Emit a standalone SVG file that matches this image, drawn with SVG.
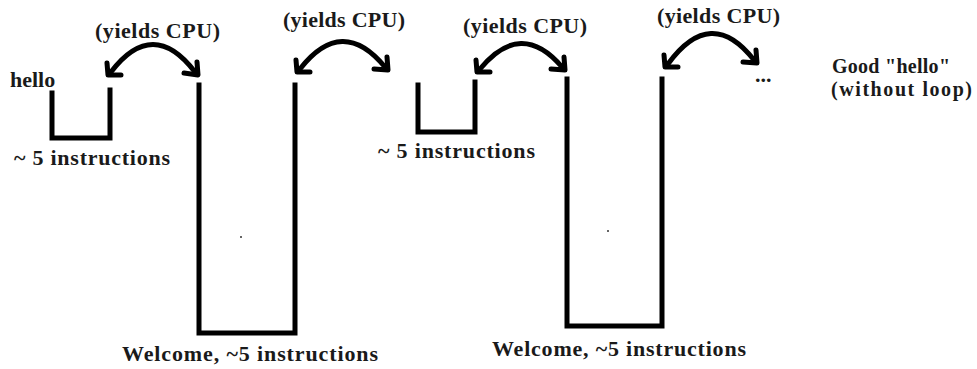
<svg xmlns="http://www.w3.org/2000/svg" width="977" height="369" viewBox="0 0 977 369">
<style>
.t{font-family:"Liberation Serif","Times New Roman",serif;font-weight:bold;font-size:22px;fill:#1a1a1a}
.s{font-size:20px}
.ln{fill:none;stroke:#000;stroke-width:5;stroke-linecap:square;stroke-linejoin:miter}
.arc{fill:none;stroke:#000;stroke-width:5;stroke-linecap:round;stroke-linejoin:round}
</style>
<rect width="977" height="369" fill="#fff"/>
<g id="hello">
<text class="t" x="10" y="87">hello</text>
<path class="ln" d="M52 93 V138 H110 V90"/>
<text class="t" x="14" y="165" textLength="156">~ 5 instructions</text>
</g>
<g id="welcome1">
<path class="ln" d="M199 85 V333 H295 V85"/>
<text class="t" x="122" y="361" textLength="256">Welcome, ~5 instructions</text>
</g>
<g id="hello2">
<path class="ln" d="M418 85 V132 H475 V82"/>
<text class="t" x="378" y="158" textLength="157">~ 5 instructions</text>
</g>
<g id="welcome2">
<path class="ln" d="M567 79 V326 H662 V79"/>
<text class="t" x="492" y="356" textLength="254">Welcome, ~5 instructions</text>
</g>
<g id="more">
<text class="t" x="755" y="82">...</text>
</g>
<g id="good">
<text class="t s" x="832" y="73" textLength="118">Good "hello"</text>
<text class="t s" x="831" y="96" textLength="141">(without loop)</text>
</g>
<g id="connectors">
<text class="t" x="95" y="38" textLength="125">(yields CPU)</text>
<path class="arc" d="M111 72 Q153 17 195 72"/>
<path class="arc" d="M107 63 L108 75 L121 75 M184 73 L198 75 L197 62"/>
<text class="t" x="283" y="27" textLength="122">(yields CPU)</text>
<path class="arc" d="M300 69 Q342 15 385 67"/>
<path class="arc" d="M296 60 L297 72 L310 72 M374 69 L388 70 L387 57"/>
<text class="t" x="463" y="33" textLength="124">(yields CPU)</text>
<path class="arc" d="M480 69 Q521 19 562 67"/>
<path class="arc" d="M476 60 L477 72 L490 72 M551 69 L565 70 L564 57"/>
<text class="t" x="657" y="23" textLength="123">(yields CPU)</text>
<path class="arc" d="M668 64 Q711 5 754 60"/>
<path class="arc" d="M664 55 L665 67 L678 67 M743 62 L757 63 L756 50"/>
</g>
<circle cx="241" cy="237" r="1" fill="#333"/>
<circle cx="608" cy="231" r="1" fill="#333"/>
</svg>
